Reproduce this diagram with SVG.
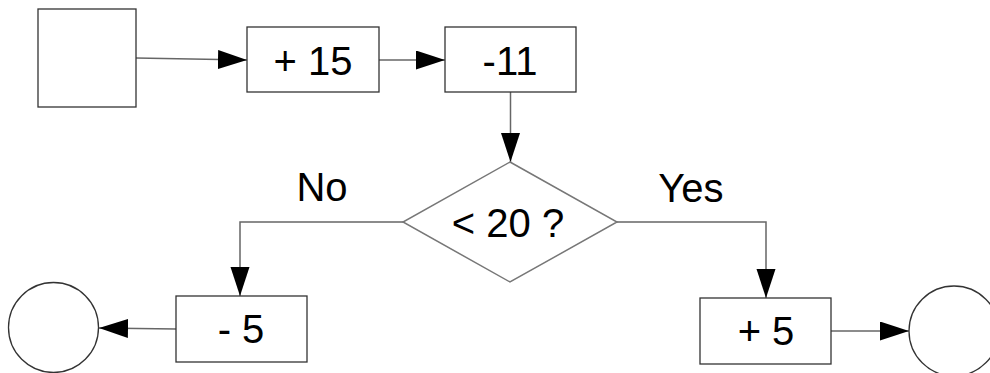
<svg xmlns="http://www.w3.org/2000/svg" width="990" height="373" viewBox="0 0 990 373">
<style>
.box{fill:#fff;stroke:#333;stroke-width:1.3}
.dia{fill:#fff;stroke:#777;stroke-width:1.5}
.con{fill:none;stroke:#666;stroke-width:1.5}
.t{font-family:"Liberation Sans",Arial,sans-serif;font-size:40px;fill:#000;text-anchor:middle}
</style>
<defs>
<marker id="ah" markerUnits="userSpaceOnUse" markerWidth="30" markerHeight="20" refX="29" refY="9.5" orient="auto">
<path d="M0,0 L29,9.5 L0,19 Z" fill="#000"/>
</marker>
</defs>
<rect width="990" height="373" fill="#fff"/>
<g id="connectors">
<path class="con" d="M136,58 L247,60" marker-end="url(#ah)"/>
<path class="con" d="M379,60 L445,60" marker-end="url(#ah)"/>
<path class="con" d="M510.5,92 L510.5,162" marker-end="url(#ah)"/>
<path class="con" d="M403,222 L240,222 L240,296" marker-end="url(#ah)"/>
<path class="con" d="M617,222 L766,222 L766,298" marker-end="url(#ah)"/>
<path class="con" d="M176,329 L99,328" marker-end="url(#ah)"/>
<path class="con" d="M831,331 L909,331" marker-end="url(#ah)"/>
</g>
<g id="start"><rect class="box" x="38" y="9" width="98" height="98"/></g>
<g id="plus15"><rect class="box" x="247" y="27" width="132" height="65"/><text class="t" x="313" y="75">+ 15</text></g>
<g id="minus11"><rect class="box" x="445" y="27" width="131" height="65"/><text class="t" x="510" y="75">-11</text></g>
<g id="decision"><path class="dia" d="M510,162 L617,222 L510,282 L403,222 Z"/><text class="t" x="508" y="237">&lt; 20 ?</text></g>
<g id="label-no"><text class="t" x="322" y="201">No</text></g>
<g id="label-yes"><text class="t" x="691" y="202">Yes</text></g>
<g id="minus5"><rect class="box" x="176" y="296" width="131" height="66"/><text class="t" x="241" y="343">- 5</text></g>
<g id="plus5"><rect class="box" x="700" y="298" width="131" height="66"/><text class="t" x="766" y="345">+ 5</text></g>
<g id="end-left"><circle class="box" cx="53.5" cy="327.5" r="45"/></g>
<g id="end-right"><circle class="box" cx="954" cy="331" r="45"/></g>
</svg>
